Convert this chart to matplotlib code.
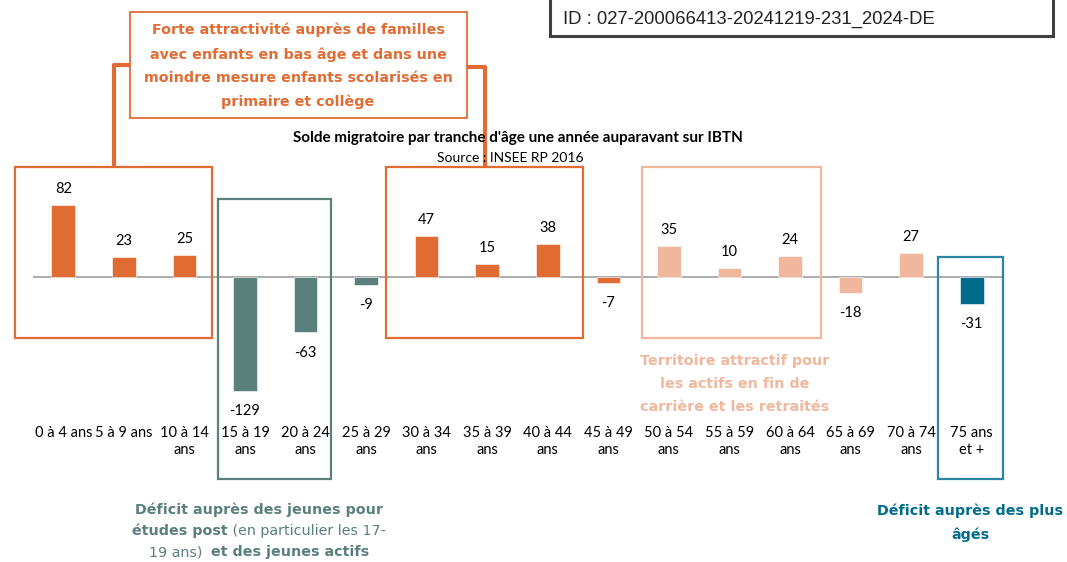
import matplotlib
matplotlib.use("Agg")
import matplotlib.pyplot as plt
from matplotlib.patches import Rectangle
from matplotlib.offsetbox import TextArea, HPacker, VPacker, AnnotationBbox

# data
categories = ["0 à 4 ans", "5 à 9 ans", "10 à 14\nans", "15 à 19\nans", "20 à 24\nans",
              "25 à 29\nans", "30 à 34\nans", "35 à 39\nans", "40 à 44\nans", "45 à 49\nans",
              "50 à 54\nans", "55 à 59\nans", "60 à 64\nans", "65 à 69\nans", "70 à 74\nans",
              "75 ans\net +"]
solde = [82, 23, 25, -129, -63, -9, 47, 15, 38, -7, 35, 10, 24, -18, 27, -31]
groupe = ["fam", "fam", "fam", "jeunes", "jeunes", "jeunes", "fam", "fam", "fam", "fam",
          "retr", "retr", "retr", "retr", "retr", "ages"]

couleurs = {"fam": "#E06C34", "jeunes": "#5A807C", "retr": "#F0B79D", "ages": "#006B8A"}
ORANGE, TEAL, SALMON, DTEAL = "#E06C34", "#5A807C", "#F0B79D", "#006B8A"
COMM = "DejaVu Sans"  # font for the comment boxes
FS = 10.3

W, H = 1067, 562
fig = plt.figure(figsize=(W / 100, H / 100), dpi=100)

# main chart axes (pixel layout: zero line at y=277, 0.88 px per unit)
y0, ppu, top, bot = 277, 0.88, 140, 425
ax = fig.add_axes([33 / W, (H - bot) / H, 969 / W, (bot - top) / H])
ax.bar(range(len(solde)), solde, width=0.39, color=[couleurs[g] for g in groupe],
       edgecolor="white", linewidth=0.4, zorder=2)
ax.axhline(0, color="#A6A6A6", lw=1.3, zorder=1)
ax.set_xlim(-0.5, len(solde) - 0.5)
ax.set_ylim(-(bot - y0) / ppu, (y0 - top) / ppu)
ax.set_xticks(range(len(categories)), categories, fontsize=10.5, family="Lato")
ax.tick_params(length=0, pad=1)
ax.set_yticks([])
for s in ax.spines.values():
    s.set_visible(False)
ax.patch.set_visible(False)

for i, v in enumerate(solde):
    off = 11.5 if v > 0 else -14.5
    ax.annotate(str(v), (i, v), xytext=(0, off), textcoords="offset points",
                ha="center", va="center", fontsize=10.5, family="Lato")

# overlay in pixel coordinates for boxes and comments
ov = fig.add_axes([0, 0, 1, 1], zorder=3)
ov.set_xlim(0, W)
ov.set_ylim(H, 0)
ov.axis("off")
ov.patch.set_visible(False)

def box(x1, y1, x2, y2, color, lw=1.6):
    ov.add_patch(Rectangle((x1, y1), x2 - x1, y2 - y1, fill=False, ec=color, lw=lw))

box(15, 167, 212, 338, ORANGE)
box(386, 167, 583, 338, ORANGE)
box(642, 167, 821, 338, SALMON)
box(218, 199, 331, 479, TEAL)
box(938, 257, 1003, 479, "#2B86A3")

# top comment box and connectors
ov.plot([114, 114, 130], [167, 65, 65], color=ORANGE, lw=3, solid_capstyle="butt")
ov.plot([467, 485, 485], [67, 67, 167], color=ORANGE, lw=3, solid_capstyle="butt")
ov.add_patch(Rectangle((130, 12), 337, 106, fc="white", ec=ORANGE, lw=1.3, zorder=4))
ov.text(298, 66, "Forte attractivité auprès de familles\navec enfants en bas âge et dans une\n"
        "moindre mesure enfants scolarisés en\nprimaire et collège",
        ha="center", va="center", color=ORANGE, fontsize=FS, fontweight="bold",
        family=COMM, linespacing=1.85, zorder=5)

# ID box
ov.add_patch(Rectangle((550, -5), 503, 41, fc="white", ec="#404040", lw=2.2))
ov.text(563, 19, "ID : 027-200066413-20241219-231_2024-DE", ha="left", va="center",
        fontsize=13.3, family="Liberation Sans", color="#222222")

# title
ov.text(518, 138, "Solde migratoire par tranche d'âge une année auparavant sur IBTN",
        ha="center", va="center", fontsize=11, fontweight="bold", family="Lato", zorder=2)
ov.text(510, 158, "Source : INSEE RP 2016", ha="center", va="center",
        fontsize=10, family="Lato", zorder=2)

# side comments
ov.text(735, 384, "Territoire attractif pour\nles actifs en fin de\ncarrière et les retraités",
        ha="center", va="center", color=SALMON, fontsize=FS, fontweight="bold",
        family=COMM, linespacing=1.85)
ov.text(970, 523, "Déficit auprès des plus\nâgés", ha="center", va="center", color=DTEAL,
        fontsize=FS, fontweight="bold", family=COMM, linespacing=1.85)

def ta(s, bold):
    return TextArea(s, textprops=dict(color=TEAL, fontsize=FS, family=COMM,
                                      fontweight="bold" if bold else "normal"))

lignes = [
    [("Déficit auprès des jeunes pour", True)],
    [("études post", True), (" (en particulier les 17-", False)],
    [("19 ans)  ", False), ("et des jeunes actifs", True)],
]
rows = [HPacker(children=[ta(s, b) for s, b in l], pad=0, sep=0, align="baseline") for l in lignes]
pack = VPacker(children=rows, pad=0, sep=5, align="center")
ov.add_artist(AnnotationBbox(pack, (259, 531), xycoords="data", frameon=False,
                             box_alignment=(0.5, 0.5)))

fig.savefig("out.png", dpi=100)
